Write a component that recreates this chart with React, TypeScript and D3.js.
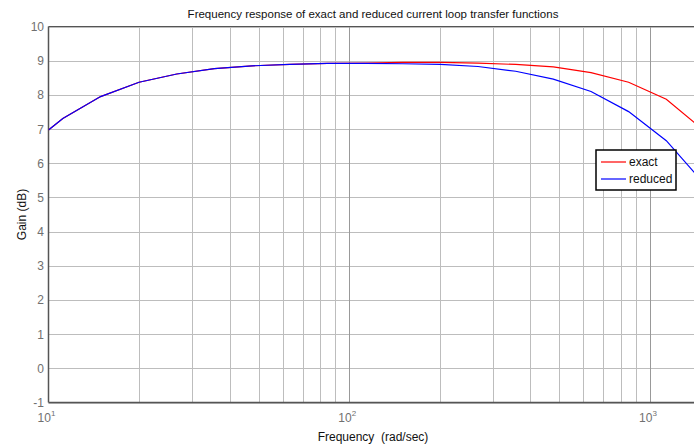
import React from 'react';
import * as d3 from 'd3';

// frequencies (rad/sec) of the plotted samples
const freqs = [10, 11.16, 14.9, 20, 26.7, 35.6, 47.5, 63.4, 84.6, 112.9, 150.6, 200.9, 268, 357.6, 477, 636.6, 849, 1133, 1511];
// gain (dB) of the exact transfer function
const exactGain = [6.97, 7.31, 7.95, 8.37, 8.61, 8.77, 8.85, 8.89, 8.92, 8.93, 8.95, 8.95, 8.93, 8.89, 8.82, 8.65, 8.37, 7.87, 6.96];
// gain (dB) of the reduced transfer function
const reducedGain = [6.97, 7.31, 7.95, 8.37, 8.61, 8.77, 8.85, 8.89, 8.92, 8.92, 8.91, 8.89, 8.83, 8.69, 8.46, 8.10, 7.51, 6.66, 5.41];

const yTicks = [-1, 0, 1, 2, 3, 4, 5, 6, 7, 8, 9, 10];
const xDecades = [10, 100, 1000];
const xMinor = [20, 30, 40, 50, 60, 70, 80, 90, 200, 300, 400, 500, 600, 700, 800, 900];

const series = [
    { name: 'exact', values: exactGain, color: '#ff0000' },
    { name: 'reduced', values: reducedGain, color: '#0000ff' }
];

const W = 694;
const H = 445;
const margin = { top: 26.5, left: 48.5, bottom: 402.5 };
const font = '"Liberation Sans", Arial, sans-serif';

const App: React.FC = () => {
    const x = d3.scaleLog().domain([10, 1000]).range([margin.left, 650]);
    const y = d3.scaleLinear().domain([-1, 10]).range([margin.bottom, margin.top]);

    const line = d3.line<number>()
        .x((_, i) => x(freqs[i]))
        .y(d => y(d));

    const right = W + 10;

    return (
        <svg width={W} height={H} style={{ position: 'absolute', left: 0, top: 0, background: '#fff' }} fontFamily={font}>
            <defs>
                <clipPath id="plot">
                    <rect x={margin.left} y={margin.top} width={right - margin.left} height={margin.bottom - margin.top} />
                </clipPath>
            </defs>
            <rect x={0} y={0} width={W} height={H} fill="#fff" />

            {/* grid */}
            {yTicks.map(t => (
                <line key={'gy' + t} x1={margin.left} x2={right} y1={Math.round(y(t)) + 0.5} y2={Math.round(y(t)) + 0.5}
                    stroke="#bdbdbd" strokeWidth={1} />
            ))}
            {xMinor.map(f => (
                <line key={'gx' + f} x1={Math.round(x(f)) + 0.5} x2={Math.round(x(f)) + 0.5} y1={margin.top} y2={margin.bottom}
                    stroke="#bdbdbd" strokeWidth={1} />
            ))}
            {xDecades.slice(1).map(f => (
                <line key={'gd' + f} x1={Math.round(x(f)) + 0.5} x2={Math.round(x(f)) + 0.5} y1={margin.top} y2={margin.bottom}
                    stroke="#999" strokeWidth={1} />
            ))}

            {/* axes box */}
            <line x1={margin.left} x2={right} y1={margin.top} y2={margin.top} stroke="#555" strokeWidth={1} />
            <line x1={margin.left} x2={right} y1={margin.bottom} y2={margin.bottom} stroke="#555" strokeWidth={1.5} />
            <line x1={margin.left} x2={margin.left} y1={margin.top} y2={margin.bottom} stroke="#555" strokeWidth={1.5} />

            {/* curves */}
            <g clipPath="url(#plot)">
                {series.map(s => (
                    <path key={s.name} d={line(s.values) || ''} fill="none" stroke={s.color} strokeWidth={1.2} />
                ))}
            </g>

            {/* y tick labels */}
            {yTicks.map(t => (
                <text key={'ty' + t} x={44} y={y(t) + 4.5} textAnchor="end" fontSize={12} fill="#707070">{t}</text>
            ))}

            {/* x tick labels */}
            {xDecades.map(f => (
                <text key={'tx' + f} x={x(f) - 2} y={422} textAnchor="middle" fontSize={12} fill="#707070">
                    10<tspan dy={-6} fontSize={8}>{Math.round(Math.log10(f))}</tspan>
                </text>
            ))}

            {/* title and labels */}
            <text x={373} y={18} textAnchor="middle" fontSize={11.5} fill="#111">
                Frequency response of exact and reduced current loop transfer functions
            </text>
            <text x={373} y={441} textAnchor="middle" fontSize={12} fill="#111" xmlSpace="preserve">
                Frequency  (rad/sec)
            </text>
            <text transform={`translate(26,${(margin.top + margin.bottom) / 2}) rotate(-90)`} textAnchor="middle" fontSize={12} fill="#111">
                Gain (dB)
            </text>

            {/* legend */}
            <g transform="translate(596,150)">
                <rect x={0} y={0} width={80} height={40} fill="#fff" stroke="#000" strokeWidth={1.5} />
                {series.map((s, i) => (
                    <g key={'lg' + s.name} transform={`translate(0,${12 + i * 17})`}>
                        <line x1={5} x2={30} y1={0} y2={0} stroke={s.color} strokeWidth={1.2} />
                        <text x={33} y={4} fontSize={12} fill="#111">{s.name}</text>
                    </g>
                ))}
            </g>
        </svg>
    );
};

export default App;
